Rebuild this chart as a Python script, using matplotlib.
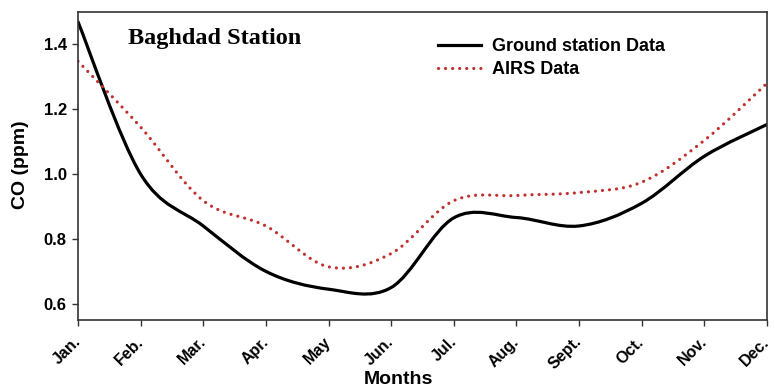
import numpy as np
import matplotlib
matplotlib.use("Agg")
from matplotlib import pyplot as plt
from matplotlib.path import Path
from matplotlib.patches import PathPatch
from matplotlib.lines import Line2D

months = ["Jan.", "Feb.", "Mar.", "Apr.", "May", "Jun.", "Jul.",
          "Aug.", "Sept.", "Oct.", "Nov.", "Dec."]
ground_co = [1.47, 1.00, 0.84, 0.70, 0.645, 0.65, 0.865, 0.866, 0.84, 0.91, 1.055, 1.153]
airs_co = [1.348, 1.145, 0.918, 0.84, 0.714, 0.755, 0.918, 0.934, 0.943, 0.975, 1.104, 1.28]

y_ticks = [0.6, 0.8, 1.0, 1.2, 1.4]

BLACK = "black"
RED = "#c0302c"
DOTS = (0, (0.01, 2.2))
SANS = "Liberation Sans"


def smooth_path(xs, ys):
    """Catmull-Rom curve through the points, written as cubic Bezier segments."""
    pts = np.column_stack([xs, ys]).astype(float)
    padded = np.vstack([pts[0], pts, pts[-1]])
    verts = [pts[0]]
    codes = [Path.MOVETO]
    for i in range(1, len(padded) - 2):
        p0, p1, p2, p3 = padded[i - 1], padded[i], padded[i + 1], padded[i + 2]
        c1 = p1 + (p2 - p0) / 6.0
        c2 = p2 - (p3 - p1) / 6.0
        verts += [c1, c2, p2]
        codes += [Path.CURVE4] * 3
    return Path(verts, codes)


x = np.arange(len(months))

fig = plt.figure(figsize=(7.75, 3.86), dpi=100)
ax = fig.add_axes([0.1006, 0.171, 0.889, 0.798])

ax.add_patch(PathPatch(smooth_path(x, ground_co), fill=False, edgecolor=BLACK, lw=2.3,
                       capstyle="round", joinstyle="round"))
ax.add_patch(PathPatch(smooth_path(x, airs_co), fill=False, edgecolor=RED, lw=2.3,
                       linestyle=DOTS, capstyle="round"))

ax.set_xlim(0, 11)
ax.set_ylim(0.55, 1.5)
ax.set_xticks(x)
ax.set_xticklabels(months, rotation=45, ha="right", va="center", rotation_mode="anchor",
                   fontsize=11.5, fontweight="bold", family=SANS)
ax.set_yticks(y_ticks)
ax.set_yticklabels([f"{v:.1f}" for v in y_ticks], fontsize=12, fontweight="bold", family=SANS)
ax.tick_params(direction="out", length=4, width=1.0, color="#333333", pad=4)
ax.tick_params(axis="x", pad=10)
for sp in ax.spines.values():
    sp.set_color("#333333")
    sp.set_linewidth(1.2)

fig.text(398 / 775, 2.5 / 386, "Months", ha="center", va="baseline",
         fontsize=14, fontweight="bold", family=SANS)
fig.text(21 / 775, 1 - 165 / 386, "CO (ppm)", ha="center", va="center", rotation=90,
         fontsize=14, fontweight="bold", family=SANS)

ax.text(0.0726, 0.915, "Baghdad Station", transform=ax.transAxes, ha="left", va="center",
        fontsize=17.5, fontweight="bold", family="Liberation Serif")

handles = [Line2D([], [], color=BLACK, lw=2.3),
           Line2D([], [], color=RED, lw=2.3, linestyle=DOTS, dash_capstyle="round")]
ax.legend(handles, ["Ground station Data", "AIRS Data"], loc="upper left",
          bbox_to_anchor=(0.522, 0.915), frameon=False, borderpad=0, borderaxespad=0,
          handlelength=2.4, handletextpad=0.6, labelspacing=0.35,
          prop={"family": SANS, "weight": "bold", "size": 13})

fig.savefig("out.png", dpi=100)
